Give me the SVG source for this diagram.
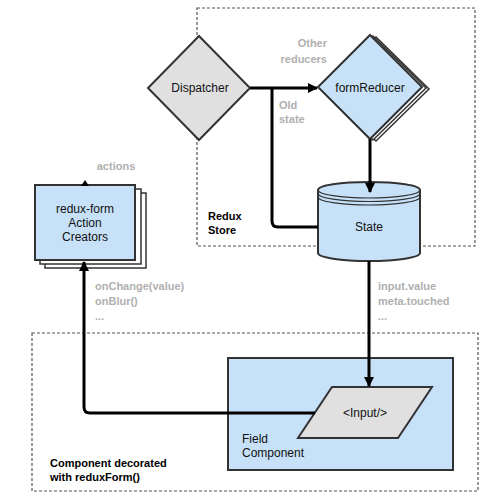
<svg xmlns="http://www.w3.org/2000/svg" width="500" height="500" viewBox="0 0 500 500">
<style>
text{font-family:"Liberation Sans",Arial,sans-serif;font-size:12px;fill:#111}
.lbl{font-size:11px;font-weight:bold;fill:#b0b0b0}
.bold{font-size:11px;font-weight:bold;fill:#000}
.grp{fill:#fff;stroke:#555;stroke-width:1.2;stroke-dasharray:3 2}
.blue{fill:#c7e1f8;stroke:#333;stroke-width:2}
.gray{fill:#e0e0e0;stroke:#333;stroke-width:2}
.copy{fill:#fff;stroke:#333;stroke-width:1.5}
.wire{fill:none;stroke:#000;stroke-width:3}
.c{text-anchor:middle}
</style>
<defs>
<marker id="ah" viewBox="0 0 10 10" refX="9" refY="5" markerWidth="10" markerHeight="10" markerUnits="userSpaceOnUse" orient="auto">
<path d="M0,0 L10,5 L0,10 Z" fill="#000"/>
</marker>
</defs>
<rect width="500" height="500" fill="#fff"/>
<g id="redux-store">
<rect class="grp" x="197" y="8" width="278" height="238"/>
<text class="bold" x="208" y="220">Redux</text>
<text class="bold" x="208" y="234">Store</text>
</g>
<g id="component-decorated">
<rect class="grp" x="32" y="333" width="446" height="158"/>
<text class="bold" x="50" y="467">Component decorated</text>
<text class="bold" x="50" y="481">with reduxForm()</text>
</g>
<g id="field-component">
<rect class="blue" x="228" y="358" width="225" height="112"/>
<text x="242" y="443">Field</text>
<text x="242" y="457">Component</text>
</g>
<g id="dispatcher">
<polygon class="gray" points="199,36 250,88 199,140 148,88"/>
<text class="c" x="200" y="92">Dispatcher</text>
</g>
<g id="formReducer">
<polygon class="copy" points="376,37 429,89 376,141 323,89"/>
<polygon class="copy" points="373,36 426,88 373,140 320,88"/>
<polygon class="blue" points="370,35 422,87 370,139 318,87"/>
<text class="c" x="370" y="92">formReducer</text>
</g>
<g id="state">
<path class="blue" d="M318,190 A51,8 0 0 1 420,190 L420,253 A51,8 0 0 1 318,253 Z"/>
<path d="M318,190 A51,8 0 0 0 420,190 M318,193.5 A51,8 0 0 0 420,193.5 M318,197 A51,8 0 0 0 420,197" fill="none" stroke="#333" stroke-width="1.2"/>
<text class="c" x="369" y="231">State</text>
</g>
<g id="action-creators">
<rect class="copy" x="45" y="193" width="101" height="75"/>
<rect class="copy" x="40" y="189" width="101" height="75"/>
<rect class="blue" x="35" y="185" width="100" height="75"/>
<text class="c" x="85" y="213">redux-form</text>
<text class="c" x="85" y="227">Action</text>
<text class="c" x="85" y="241">Creators</text>
</g>
<g id="input">
<polygon class="gray" points="332,387 432,387 398,438 298,438"/>
<text class="c" x="365" y="417">&lt;Input/&gt;</text>
</g>
<g id="connectors">
<line class="wire" x1="250" y1="88" x2="317" y2="88" marker-end="url(#ah)"/>
<path class="wire" d="M318,227 L278,227 Q272,227 272,221 L272,88"/>
<line class="wire" x1="370" y1="139" x2="370" y2="192" marker-end="url(#ah)"/>
<line class="wire" x1="369" y1="261" x2="369" y2="386" marker-end="url(#ah)"/>
<path class="wire" d="M315,413 L90,413 Q84,413 84,407 L84,262" marker-end="url(#ah)"/>
<path d="M81,186 L85,180 L89,186 Z" fill="#000"/>
</g>
<g id="labels">
<text class="lbl" x="327" y="47" text-anchor="end">Other</text>
<text class="lbl" x="327" y="63" text-anchor="end">reducers</text>
<text class="lbl" x="279" y="109">Old</text>
<text class="lbl" x="279" y="123">state</text>
<text class="lbl c" x="116" y="170">actions</text>
<text class="lbl" x="95" y="290">onChange(value)</text>
<text class="lbl" x="95" y="305">onBlur()</text>
<text class="lbl" x="95" y="320">...</text>
<text class="lbl" x="378" y="290">input.value</text>
<text class="lbl" x="378" y="305">meta.touched</text>
<text class="lbl" x="378" y="320">...</text>
</g>
</svg>
